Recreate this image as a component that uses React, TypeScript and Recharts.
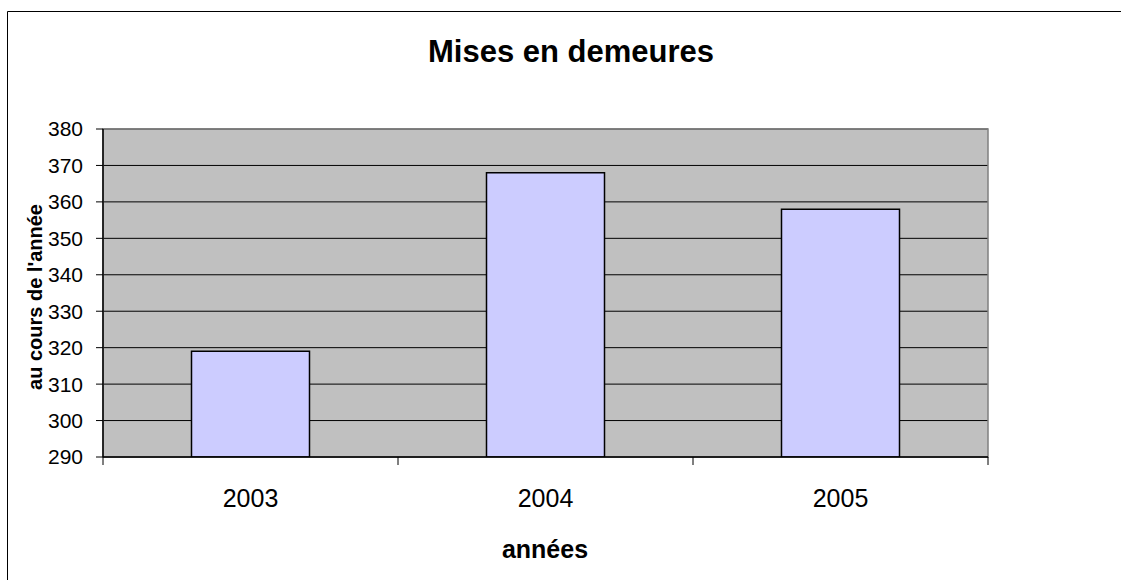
import React from 'react';
import { BarChart, Bar, XAxis, YAxis, CartesianGrid, ReferenceArea } from 'recharts';

const categories = ['2003', '2004', '2005'];
const values = [319, 368, 358];
const yTicks = [290, 300, 310, 320, 330, 340, 350, 360, 370, 380];
const title = 'Mises en demeures';
const xTitle = 'années';
const yTitle = "au cours de l'année";

const data = categories.map((c, i) => ({ year: c, value: values[i] }));

const FONT = "'Liberation Sans', Arial, sans-serif";

const XTick = (props: any) => {
  const { x, y, payload, index, visibleTicksCount } = props;
  const off = payload && typeof payload.offset === 'number' ? payload.offset : 0;
  const last = index === (visibleTicksCount ?? categories.length) - 1;
  return (
    <g>
      <line x1={x - off} x2={x - off} y1={y} y2={y + 8} stroke="#000" strokeWidth={1} />
      {last && <line x1={x + off} x2={x + off} y1={y} y2={y + 8} stroke="#000" strokeWidth={1} />}
      <text x={x} y={y + 50} textAnchor="middle" fontSize={25} fontFamily={FONT} fill="#000">
        {payload.value}
      </text>
    </g>
  );
};

export default function App() {
  return (
    <div style={{ position: 'absolute', left: 0, top: 0, width: 1121, height: 580, background: '#fff', overflow: 'hidden' }}>
      <BarChart
        width={1121}
        height={580}
        data={data}
        margin={{ top: 129, right: 133, left: 0, bottom: 63 }}
        barCategoryGap="30%"
      >
        <CartesianGrid vertical={false} fill="#C0C0C0" stroke="#000" strokeOpacity={1} />
        <ReferenceArea y1={290} y2={380} fill="none" stroke="#808080" strokeWidth={1.5} ifOverflow="visible" />
        <XAxis
          dataKey="year"
          height={60}
          tickSize={0}
          tickMargin={0}
          tickLine={false}
          axisLine={{ stroke: '#000', strokeWidth: 1.5 }}
          tick={<XTick />}
          interval={0}
        />
        <YAxis
          width={103}
          domain={[290, 380]}
          ticks={yTicks}
          interval={0}
          allowDataOverflow
          tickSize={7}
          tickMargin={13}
          tickLine={{ stroke: '#000' }}
          axisLine={{ stroke: '#000', strokeWidth: 1.5 }}
          tick={{ fontSize: 21, fill: '#000', fontFamily: FONT }}
        />
        <Bar dataKey="value" fill="#CCCCFF" stroke="#000" strokeWidth={1.5} isAnimationActive={false} />
      </BarChart>
      <svg
        width={1121}
        height={580}
        style={{ position: 'absolute', left: 0, top: 0, pointerEvents: 'none' }}
      >
        <path d="M7.5 580 L7.5 11.5 L1121 11.5" fill="none" stroke="#000" strokeWidth={1} />
        <text x={571} y={62} textAnchor="middle" fontSize={31} fontWeight="bold" fontFamily={FONT} fill="#000">
          {title}
        </text>
        <text x={545} y={558} textAnchor="middle" fontSize={25} fontWeight="bold" fontFamily={FONT} fill="#000">
          {xTitle}
        </text>
        <text
          transform="translate(42,297) rotate(-90)"
          x={0}
          y={0}
          textAnchor="middle"
          fontSize={20}
          fontWeight="bold"
          fontFamily={FONT}
          fill="#000"
        >
          {yTitle}
        </text>
      </svg>
    </div>
  );
}
